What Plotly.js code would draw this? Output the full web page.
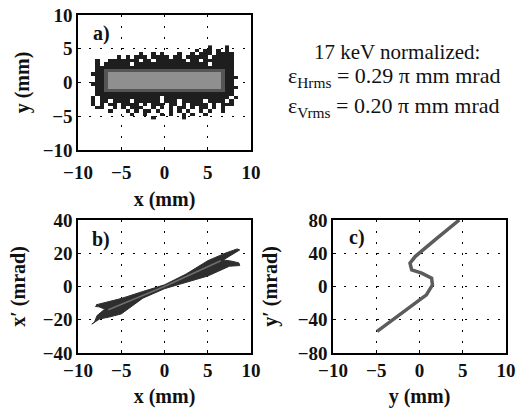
<!DOCTYPE html>
<html>
<head>
<meta charset="utf-8">
<script src="https://cdn.plot.ly/plotly-3.0.1.min.js"></script>
<style>html,body{margin:0;padding:0;background:#fff;}#chart{width:516px;height:411px;}</style>
</head>
<body>
<div id="chart"></div>
<script>
// ---------- Panel a: beam density map y vs x
// rows top -> bottom (y = 5.25 ... -5.25), columns x = -8.25 ... 8.25, step 0.5 mm ('|' only groups columns by 10)
// '.' empty, '#' dense halo, 'm' core edge, 'c' core
const densityRows = [
  "..........|..........|.......#..|.#..",
  "..........|..........|....#.##.#|.#..",
  "..........|.#..#.#...|#..#.###.#|###.",
  "......#.#.|###.####.#|#.#####.##|###.",
  ".#..######|#.##.#####|##.##.####|###.",
  ".#.######.|##########|#######.##|###.",
  ".#########|##########|##########|###.",
  ".##mmmmmmm|mmmmmmmmmm|mmmmmmmmmm|m##.",
  "###mcccccc|cccccccccc|cccccccccc|m##.",
  ".##mcccccc|cccccccccc|cccccccccc|m###",
  ".##mcccccc|cccccccccc|cccccccccc|m##.",
  "###mcccccc|cccccccccc|cccccccccc|m##.",
  ".##mcccccc|cccccccccc|cccccccccc|m###",
  ".##mmmmmmm|mmmmmmmmmm|mmmmmmmmmm|m##.",
  ".#########|##########|##########|###.",
  "#.########|######.###|##########|##.#",
  "#.##.####.|######.###|.#####.###|#.#.",
  "#.#.##.###|#.#.###.##|.#.####.#.|###.",
  ".##..#.#.#|##..#.#.#.|##.#.##.#.|#...",
  "....#...#.|#.##.#..#.|#.#..#.#..|#...",
  ".........#|..#...#.#.|.#.#..#...|....",
  "..........|....#.....|.#........|...."
];
const densityLevels = {"#": 1, "m": 2, "c": 3};
const gridX0 = -8.25, gridY0 = -5.25, gridStep = 0.5;

// ---------- Panel b: x' vs x phase-space outline
const bandX = [-7.9,-6.5,-5.0,-2.5,0.0,2.5,5.0,7.0,8.4,8.7,7.8,6.8,7.8,8.6,8.7,7.5,5.0,2.5,0.0,-2.5,-5.0,-6.5,-7.5,-8.4,-8.1,-7.8,-7.4,-6.9,-7.6,-8.0];
const bandY = [-11.0,-9.3,-7.2,-3.0,1.0,7.5,15.5,20.0,22.6,22.0,19.0,16.0,15.2,14.2,12.6,12.2,6.3,2.5,-1.3,-7.0,-16.5,-18.5,-19.5,-22.6,-21.5,-17.5,-15.8,-13.6,-12.2,-12.0];
const bandCoreX = [-6.5, 0.0, 6.5];
const bandCoreY = [-14.0, 0.0, 15.5];

// ---------- Panel c: y' vs y curve
const curveY  = [-4.9,-2.6,-0.7,0.8,1.5,1.4,0.25,-0.9,-1.1,-0.5,2.0,4.6];
const curveYp = [-54,-36,-22,-10,2,10,16,20,28,36,58,80];

// ---------- axis ticks
const xTicks = [-10,-5,0,5,10];
const yTicksA = [-10,-5,0,5,10];
const yTicksB = [-40,-20,0,20,40];
const yTicksC = [-80,-40,0,40,80];

// build heatmap matrix (bottom row first)
const zRows = densityRows.slice().reverse().map(r => {
  const s = r.replace(/\|/g, "");
  return Array.from(s).map(ch => (densityLevels[ch] !== undefined ? densityLevels[ch] : null));
});

const W = 516, H = 411;
const px = (a, b) => [a / W, b / W];
const py = (top, bottom) => [1 - bottom / H, 1 - top / H];

const fontFam = "Liberation Serif, Times New Roman, serif";
const tickFont = {family: fontFam, size: 19, color: "#111", weight: "bold"};
const titleFont = {family: fontFam, size: 20, color: "#111", weight: "bold"};

function ax(domain, range, tickvals, title, standoff, labelOff) {
  return {
    domain: domain, range: range, tickvals: tickvals, autorange: false,
    showline: true, mirror: true, linecolor: "#000", linewidth: 1.6,
    ticks: "inside", ticklen: 3, tickcolor: "#000", ticklabelstandoff: labelOff || 0,
    showgrid: true, gridcolor: "#000", gridwidth: 1.3, griddash: "2px,9px",
    zeroline: false, tickfont: tickFont,
    title: {text: title, font: titleFont, standoff: standoff}
  };
}

const traces = [
  {type: "heatmap", z: zRows, x0: gridX0, dx: gridStep, y0: gridY0, dy: gridStep,
   zmin: 1, zmax: 3, showscale: false, hoverongaps: false,
   colorscale: [[0, "#1e1e1e"], [0.5, "#555555"], [1, "#8f8f8f"]],
   xaxis: "x", yaxis: "y"},
  {type: "scatter", mode: "lines", x: bandX, y: bandY, fill: "toself",
   fillcolor: "#2e2e2e", line: {color: "#2e2e2e", width: 1}, xaxis: "x2", yaxis: "y2", showlegend: false},
  {type: "scatter", mode: "lines", x: bandCoreX, y: bandCoreY,
   line: {color: "#6e6e6e", width: 1.5}, xaxis: "x2", yaxis: "y2", showlegend: false},
  {type: "scatter", mode: "lines", x: curveY, y: curveYp,
   line: {color: "#5c5c5c", width: 3.5}, xaxis: "x3", yaxis: "y3", showlegend: false}
];

const lab = (x, y, t) => ({xref: "paper", yref: "paper", x: x / W, y: 1 - y / H, text: t, showarrow: false,
  xanchor: "center", yanchor: "middle", font: {family: fontFam, size: 20, color: "#111", weight: "bold"}});
const note = (x, y, t, anchor, size) => ({xref: "paper", yref: "paper", x: x / W, y: 1 - y / H, text: t, showarrow: false,
  xanchor: anchor, yanchor: "middle", font: {family: fontFam, size: size, color: "#111"}});

const layout = {
  width: W, height: H, margin: {l: 0, r: 0, t: 0, b: 0},
  paper_bgcolor: "#fff", plot_bgcolor: "#fff", showlegend: false,
  xaxis:  Object.assign(ax(px(78, 251), [-10, 10], xTicks, "x (mm)", 9, 5), {anchor: "y"}),
  yaxis:  Object.assign(ax(py(15, 150), [-10, 10], yTicksA, "y (mm)", 8), {anchor: "x"}),
  xaxis2: Object.assign(ax(px(78, 251), [-10, 10], xTicks, "x (mm)", 8), {anchor: "y2"}),
  yaxis2: Object.assign(ax(py(220, 353), [-40, 40], yTicksB, "x′ (mrad)", 12), {anchor: "x2"}),
  xaxis3: Object.assign(ax(px(333, 506), [-10, 10], xTicks, "y (mm)", 8), {anchor: "y3"}),
  yaxis3: Object.assign(ax(py(220, 353), [-80, 80], yTicksC, "y′ (mrad)", 15), {anchor: "x3"}),
  annotations: [
    lab(101, 33, "a)"),
    lab(101, 240, "b)"),
    lab(357, 238, "c)"),
    note(397, 52, "17 keV normalized:", "center", 21),
    note(286, 77, "ε<sub>Hrms</sub> = 0.29 π mm mrad", "left", 22),
    note(286, 107, "ε<sub>Vrms</sub> = 0.20 π mm mrad", "left", 22)
  ]
};

Plotly.newPlot("chart", traces, layout, {staticPlot: true, displayModeBar: false});
</script>
</body>
</html>
